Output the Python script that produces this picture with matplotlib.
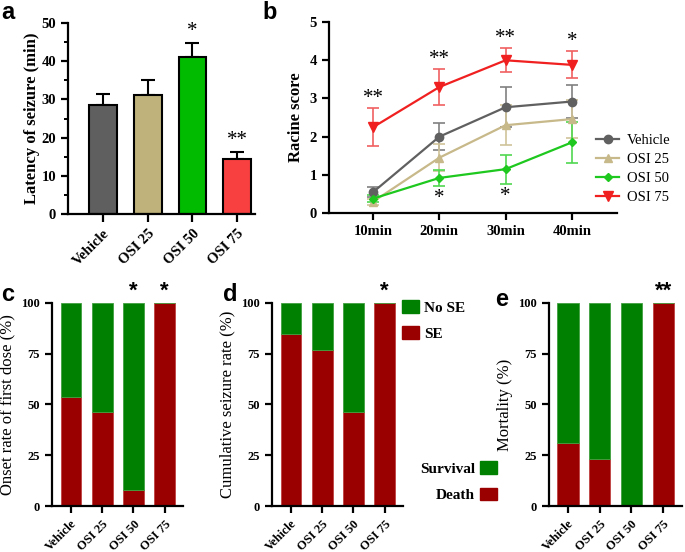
import matplotlib
matplotlib.use("Agg")
import matplotlib.pyplot as plt
import numpy as np
from matplotlib.patches import Patch

groups = ["Vehicle", "OSI 25", "OSI 50", "OSI 75"]

# Panel a
latency = [28.5, 31.2, 41.2, 14.4]
latency_err = [2.8, 3.8, 3.6, 1.9]
latency_sig = ["", "", "*", "**"]

# Panel b
times = ["10min", "20min", "30min", "40min"]
racine_vehicle = [0.55, 2.0, 2.77, 2.92]
racine_vehicle_err = [0.13, 0.35, 0.52, 0.43]
racine_osi25 = [0.30, 1.45, 2.30, 2.46]
racine_osi25_err = [0.08, 0.35, 0.52, 0.49]
racine_osi50 = [0.38, 0.92, 1.15, 1.85]
racine_osi50_err = [0.10, 0.21, 0.38, 0.53]
racine_osi75 = [2.25, 3.30, 4.00, 3.88]
racine_osi75_err = [0.49, 0.46, 0.31, 0.35]
sig_above_75 = ["**", "**", "**", "*"]
sig_below_50 = ["", "*", "*", ""]

# Panel c, d, e (percent)
onset_se = [53.8, 46.2, 7.7, 100.0]
onset_sig = ["", "", "*", "*"]
cumulative_se = [84.6, 76.9, 46.2, 100.0]
cumulative_sig = ["", "", "", "*"]
mortality_death = [30.8, 23.1, 0.0, 100.0]
mortality_sig = ["", "", "", "**"]

RED = "#9b0000"
GREEN = "#008000"
SERIF = "Liberation Serif"
SANS = "Liberation Sans"

plt.rcParams["font.family"] = SERIF
plt.rcParams["axes.linewidth"] = 1.6
plt.rcParams["xtick.major.width"] = 1.6
plt.rcParams["ytick.major.width"] = 1.6
plt.rcParams["ytick.minor.width"] = 1.4

fig = plt.figure(figsize=(6.85, 5.52), dpi=100)

def style(ax):
    ax.spines["top"].set_visible(False)
    ax.spines["right"].set_visible(False)

# ---------- a ----------
axa = fig.add_axes([0.0993, 0.6123, 0.273, 0.346])
xa = np.arange(4)
cols_a = ["#5f5f5f", "#bfb27a", "#00bb00", "#f84040"]
axa.bar(xa, latency, width=0.62, color=cols_a, edgecolor="black", linewidth=1.5, zorder=2)
axa.errorbar(xa, latency, yerr=[np.zeros(4), latency_err], fmt="none", ecolor="black",
             elinewidth=1.5, capsize=5, capthick=1.5, zorder=1)
for x, v, e, s in zip(xa, latency, latency_err, latency_sig):
    if s:
        axa.text(x, v + e + 0.5, s, ha="center", va="bottom", fontsize=15)
axa.set_xlim(-0.78, 3.4)
axa.set_ylim(0, 50)
axa.set_yticks([0, 10, 20, 30, 40, 50])
axa.set_yticks([5, 15, 25, 35, 45], minor=True)
axa.tick_params(axis="y", which="major", length=5, labelsize=10.5)
axa.tick_params(axis="y", which="minor", length=3)
axa.tick_params(axis="x", length=6, labelsize=10.5)
axa.set_xticks(xa)
axa.set_xticklabels(groups, rotation=45, ha="right", rotation_mode="anchor", fontweight="bold")
for t in axa.get_yticklabels():
    t.set_fontweight("bold")
axa.set_ylabel("Latency of seizure (min)", fontsize=12, fontweight="bold", labelpad=1)
style(axa)

# ---------- b ----------
axb = fig.add_axes([0.480, 0.614, 0.4204, 0.346])
xb = np.arange(1, 5)
series = [
    ("Vehicle", racine_vehicle, racine_vehicle_err, "#606060", "#808080", "o", 6),
    ("OSI 25", racine_osi25, racine_osi25_err, "#c8b98a", "#d0c49a", "^", 6),
    ("OSI 50", racine_osi50, racine_osi50_err, "#1ec81e", "#50d850", "D", 4.5),
    ("OSI 75", racine_osi75, racine_osi75_err, "#f02020", "#f06060", "v", 7),
]
handles = []
for name, vals, err, c, ec, m, ms in series:
    axb.errorbar(xb, vals, yerr=err, fmt="none", ecolor=ec, elinewidth=1.2, capsize=4, capthick=1.2, zorder=1)
    ln, = axb.plot(xb, vals, color=c, marker=m, markersize=ms, linewidth=1.6, zorder=3, label=name)
    handles.append(ln)
for x, v, e, s in zip(xb, racine_osi75, racine_osi75_err, sig_above_75):
    axb.text(x, v + e + 0.02, s, ha="center", va="bottom", fontsize=15)
for x, v, e, s in zip(xb, racine_osi50, racine_osi50_err, sig_below_50):
    if s:
        axb.text(x, v - e - 0.08, s, ha="center", va="top", fontsize=15)
axb.set_xlim(0.33, 4.68)
axb.set_ylim(0, 5)
axb.set_xticks(xb)
axb.set_xticklabels(times, fontweight="bold")
axb.set_yticks(range(6))
for t in axb.get_yticklabels():
    t.set_fontweight("bold")
axb.tick_params(axis="both", length=5, labelsize=10.5)
axb.set_ylabel("Racine score", fontsize=12, fontweight="bold")
style(axb)
fig.legend(handles=handles, loc="center left", bbox_to_anchor=(0.870, 0.694), frameon=False,
           fontsize=10.5, handlelength=1.6, labelspacing=0.4, handletextpad=0.5,
           borderpad=0, borderaxespad=0)

# ---------- c, d, e ----------
def stacked(ax_rect, red_vals, sig, ylabel, sigsize=16):
    ax = fig.add_axes(ax_rect)
    x = np.arange(4)
    red = np.array(red_vals)
    ax.bar(x, red, width=0.67, color=RED, edgecolor="#c04040", linewidth=0.6, zorder=2)
    ax.bar(x, 100 - red, bottom=red, width=0.67, color=GREEN, edgecolor="#40a040", linewidth=0.6, zorder=2)
    for xi, s in zip(x, sig):
        if s:
            ax.text(xi, 100.5, s, ha="center", va="bottom", fontsize=sigsize, fontweight="bold",
                    family=SANS)
    ax.set_xlim(-0.61, 3.58)
    ax.set_ylim(0, 100)
    ax.set_yticks([0, 25, 50, 75, 100])
    ax.set_xticks(x)
    ax.set_xticklabels(groups, rotation=45, ha="right", rotation_mode="anchor", fontweight="bold")
    for t in ax.get_yticklabels():
        t.set_fontweight("bold")
    ax.tick_params(axis="both", length=5, labelsize=9)
    ax.set_ylabel(ylabel, fontsize=12)
    style(ax)
    return ax

axc = stacked([0.0759, 0.0833, 0.191, 0.368], onset_se, onset_sig, "Onset rate of first dose (%)")
axd = stacked([0.397, 0.0833, 0.191, 0.368], cumulative_se, cumulative_sig, "Cumulative seizure rate (%)")
axe = stacked([0.801, 0.0833, 0.194, 0.368], mortality_death, mortality_sig, "Mortality (%)")

leg1 = [Patch(facecolor=GREEN, edgecolor=GREEN, label="No SE"),
        Patch(facecolor=RED, edgecolor=RED, label="SE")]
fig.legend(handles=leg1, loc="upper left", bbox_to_anchor=(0.587, 0.456), frameon=False,
           prop={"family": SERIF, "weight": "bold", "size": 11}, handlelength=1.1, handleheight=0.9,
           labelspacing=0.75, handletextpad=0.35, borderpad=0, borderaxespad=0)
leg2 = [Patch(facecolor=GREEN, edgecolor=GREEN, label="Survival"),
        Patch(facecolor=RED, edgecolor=RED, label="Death")]
fig.legend(handles=leg2, loc="upper right", bbox_to_anchor=(0.7255, 0.164), frameon=False,
           prop={"family": SERIF, "weight": "bold", "size": 11}, handlelength=1.1, handleheight=0.9,
           labelspacing=0.75, handletextpad=0.35, markerfirst=False, borderpad=0, borderaxespad=0)

# panel letters
for lab, x, y in [("a", 0.002, 0.998), ("b", 0.383, 0.998), ("c", 0.002, 0.487),
                  ("d", 0.325, 0.487), ("e", 0.723, 0.478)]:
    fig.text(x, y, lab, fontsize=17, fontweight="bold", family=SANS, va="top", ha="left")

fig.savefig("out.png", dpi=100)
